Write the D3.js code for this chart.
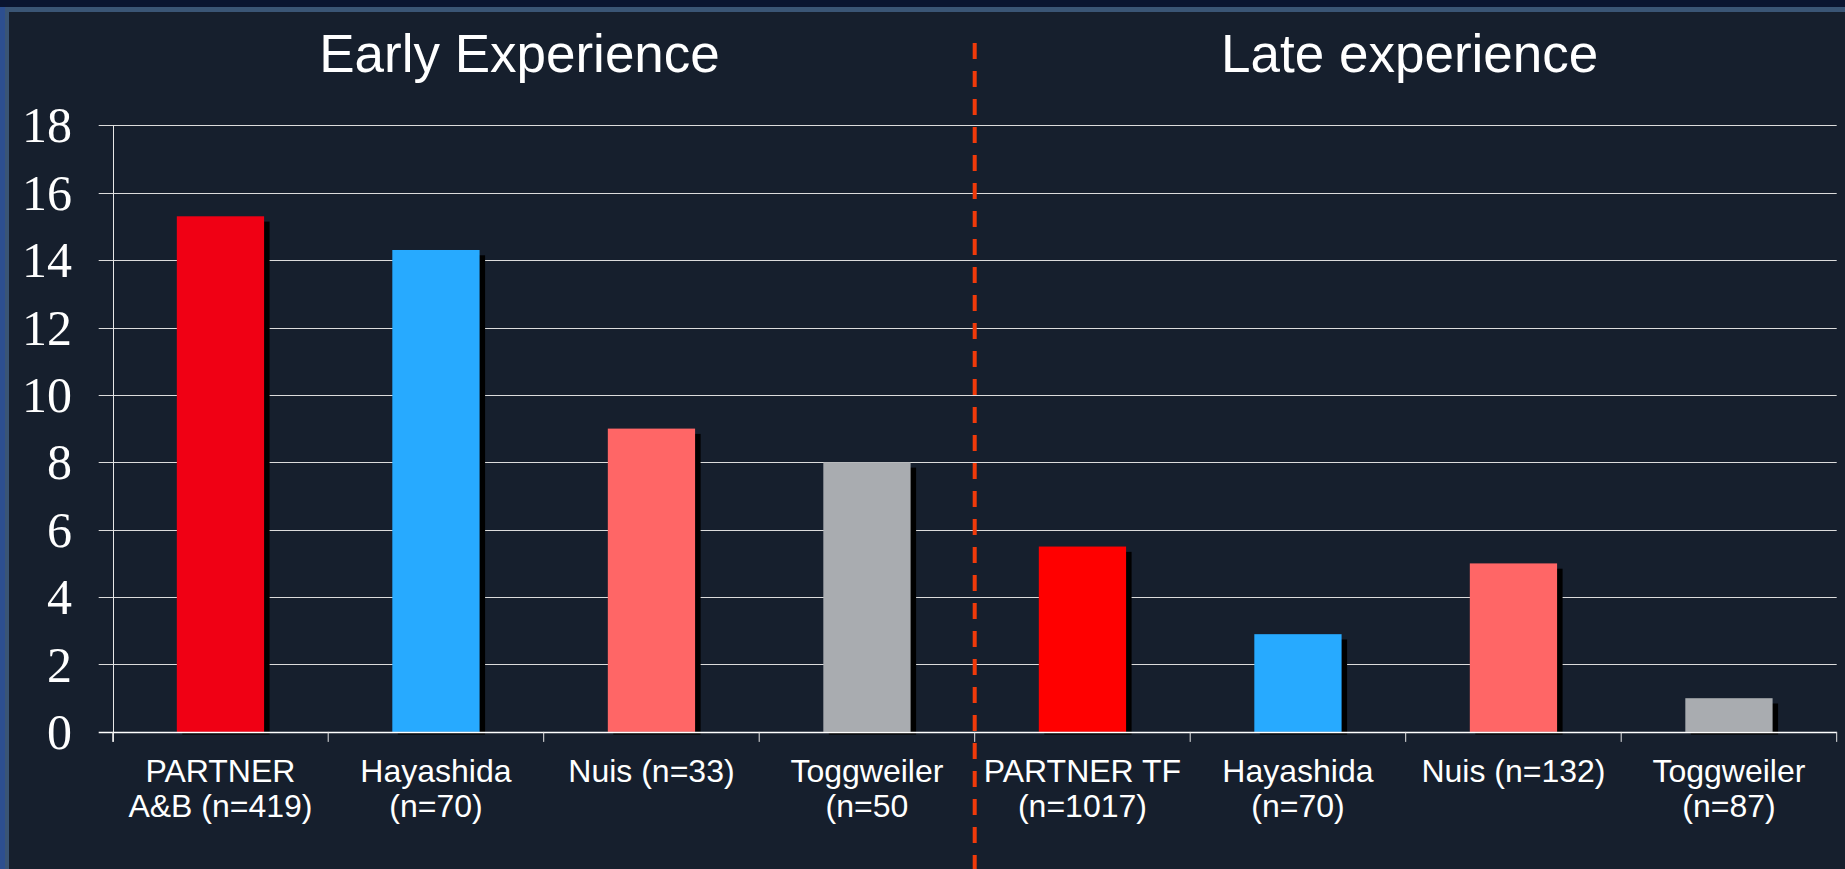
<!DOCTYPE html>
<html>
<head>
<meta charset="utf-8">
<script src="https://cdn.jsdelivr.net/npm/d3@7"></script>
<style>
  html, body { margin: 0; padding: 0; background: #0a1530; }
  svg { display: block; }
</style>
</head>
<body>
<svg id="chart" width="1845" height="869"></svg>
<script>
// Category labels (line breaks marked with \n), values and bar colours
const categories = [
  "PARTNER\nA&B (n=419)", "Hayashida\n(n=70)", "Nuis (n=33)", "Toggweiler\n(n=50",
  "PARTNER TF\n(n=1017)", "Hayashida\n(n=70)", "Nuis (n=132)", "Toggweiler\n(n=87)"
];
const values = [15.3, 14.3, 9.0, 8.0, 5.5, 2.9, 5.0, 1.0];
const barColors = ["#f00014", "#27aaff", "#ff6666", "#a9acb0", "#ff0000", "#27aaff", "#ff6666", "#a9acb0"];
const yTicks = [0, 2, 4, 6, 8, 10, 12, 14, 16, 18];
const groupTitles = ["Early Experience", "Late experience"];

(function drawChart() {
  const W = 1845, H = 869;
  const svg = d3.select("#chart");

  // Slide background with its frame strips
  svg.append("rect").attr("x", 0).attr("y", 0).attr("width", W).attr("height", H).attr("fill", "#0a1530");
  svg.append("rect").attr("x", 0).attr("y", 7).attr("width", 5).attr("height", H - 7).attr("fill", "#2d4f8f");
  svg.append("rect").attr("x", 5).attr("y", 7).attr("width", W - 5).attr("height", H - 7).attr("fill", "#3a5575");
  svg.append("rect").attr("x", 9).attr("y", 12).attr("width", W - 9).attr("height", H - 12).attr("fill", "#161f2d");

  const plotLeft = 112.7, plotRight = 1836.7, plotTop = 125.3, plotBottom = 731.9;

  const x = d3.scaleBand()
    .domain(d3.range(categories.length))
    .range([plotLeft, plotRight])
    .paddingInner(0).paddingOuter(0);

  const y = d3.scaleLinear().domain([0, 18]).range([plotBottom, plotTop]);

  // Horizontal gridlines
  svg.append("g")
    .selectAll("line")
    .data(yTicks.filter(d => d > 0))
    .join("line")
    .attr("x1", plotLeft - 14).attr("x2", plotRight)
    .attr("y1", d => Math.round(y(d)) + 0.5).attr("y2", d => Math.round(y(d)) + 0.5)
    .attr("stroke", "#dcdcdc").attr("stroke-width", 1);

  // Y tick labels
  svg.append("g")
    .selectAll("text")
    .data(yTicks)
    .join("text")
    .attr("x", 72)
    .attr("y", d => y(d) + 17)
    .attr("text-anchor", "end")
    .attr("font-family", "'Liberation Serif', 'Times New Roman', serif")
    .attr("font-size", 50)
    .attr("fill", "#ffffff")
    .text(d => d);

  // Bars with offset drop shadows
  const barW = x.bandwidth() * 0.405;
  const bars = svg.append("g");
  bars.selectAll("rect.shadow")
    .data(values)
    .join("rect")
    .attr("class", "shadow")
    .attr("x", (d, i) => x(i) + x.bandwidth() / 2 - barW / 2 + 5.5)
    .attr("y", d => y(d) + 5.3)
    .attr("width", barW)
    .attr("height", d => y(0) - y(d) - 2.6)
    .attr("fill", "#000000");
  bars.selectAll("rect.bar")
    .data(values)
    .join("rect")
    .attr("class", "bar")
    .attr("x", (d, i) => x(i) + x.bandwidth() / 2 - barW / 2)
    .attr("y", d => y(d))
    .attr("width", barW)
    .attr("height", d => y(0) - y(d))
    .attr("fill", (d, i) => barColors[i]);

  // Y axis line
  svg.append("line")
    .attr("x1", Math.round(plotLeft) + 0.5).attr("x2", Math.round(plotLeft) + 0.5)
    .attr("y1", plotTop).attr("y2", plotBottom + 10)
    .attr("stroke", "#e6e6e6").attr("stroke-width", 1);

  // X axis baseline and category ticks
  svg.append("line")
    .attr("x1", plotLeft - 14).attr("x2", plotRight)
    .attr("y1", Math.round(plotBottom) + 0.5).attr("y2", Math.round(plotBottom) + 0.5)
    .attr("stroke", "#ffffff").attr("stroke-width", 1.5);
  svg.append("g")
    .selectAll("line")
    .data(d3.range(categories.length + 1))
    .join("line")
    .attr("x1", i => (i < categories.length ? x(i) : plotRight))
    .attr("x2", i => (i < categories.length ? x(i) : plotRight))
    .attr("y1", plotBottom).attr("y2", plotBottom + 10)
    .attr("stroke", "#e6e6e6").attr("stroke-width", 1);

  // Category labels
  const catLabels = svg.append("g")
    .selectAll("text")
    .data(categories)
    .join("text")
    .attr("text-anchor", "middle")
    .attr("font-family", "'Liberation Sans', Arial, sans-serif")
    .attr("font-size", 32)
    .attr("fill", "#ffffff");
  catLabels.each(function (d, i) {
    const t = d3.select(this);
    d.split("\n").forEach((line, k) => {
      t.append("tspan")
        .attr("x", x(i) + x.bandwidth() / 2)
        .attr("y", 781.7 + k * 35)
        .text(line);
    });
  });

  // Divider between early and late groups
  svg.append("line")
    .attr("x1", x(4)).attr("x2", x(4))
    .attr("y1", 43).attr("y2", H)
    .attr("stroke", "#f03a0a").attr("stroke-width", 4)
    .attr("stroke-dasharray", "16 12");

  // Group titles
  const titleX = [519.5, 1409.7];
  svg.append("g")
    .selectAll("text")
    .data(groupTitles)
    .join("text")
    .attr("x", (d, i) => titleX[i])
    .attr("y", 72)
    .attr("text-anchor", "middle")
    .attr("font-family", "'Liberation Sans', Arial, sans-serif")
    .attr("font-size", 53)
    .attr("fill", "#ffffff")
    .text(d => d);
})();
</script>
</body>
</html>
